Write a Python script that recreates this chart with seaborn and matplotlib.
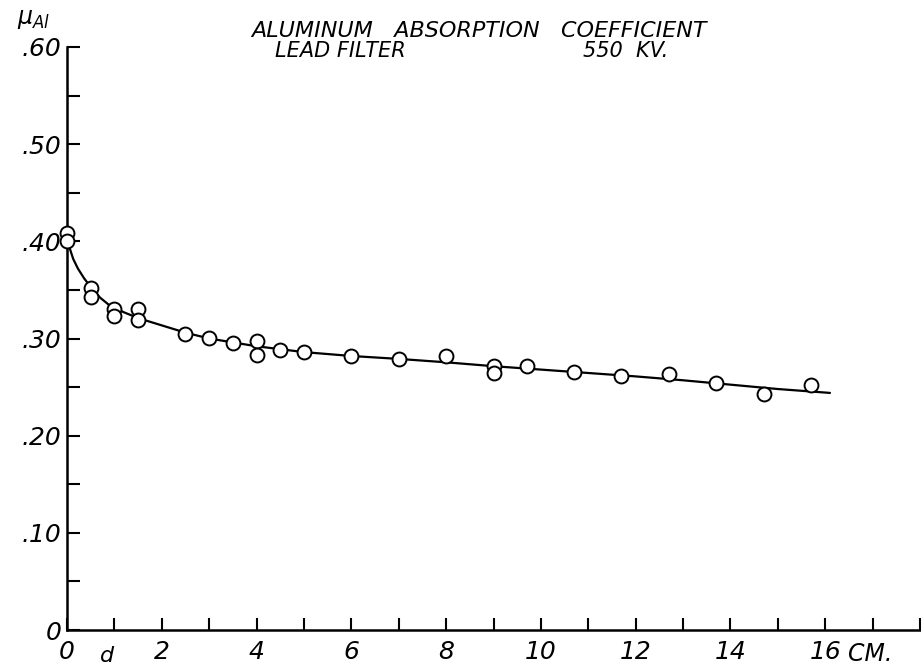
import matplotlib
matplotlib.use("Agg")
import matplotlib.pyplot as plt
import seaborn as sns
import pandas as pd

# Measured aluminum absorption coefficient vs. lead filter thickness (cm)
thickness_cm = [0.0, 0.0, 0.5, 0.5, 1.0, 1.0, 1.5, 1.5, 2.5, 3.0, 3.5, 4.0, 4.0,
                4.5, 5.0, 6.0, 7.0, 8.0, 9.0, 9.0, 9.7, 10.7, 11.7, 12.7, 13.7,
                14.7, 15.7]
mu_al = [0.409, 0.400, 0.352, 0.343, 0.330, 0.323, 0.330, 0.319, 0.305, 0.301,
         0.295, 0.297, 0.283, 0.288, 0.286, 0.282, 0.279, 0.282, 0.272, 0.264,
         0.272, 0.2655, 0.261, 0.263, 0.254, 0.243, 0.252]

# Hand-drawn smooth curve through the measurements
curve_x = [0.0, 0.03, 0.13, 0.23, 0.36, 0.5, 0.7, 0.9, 1.2, 1.5, 1.9, 2.3, 2.5,
           3.0, 3.5, 4.0, 4.5, 5.0, 6.0, 7.0, 8.0, 9.0, 10.0, 11.0, 12.0, 13.0,
           14.0, 15.0, 16.1]
curve_y = [0.400, 0.397, 0.382, 0.372, 0.362, 0.353, 0.342, 0.334, 0.327, 0.321,
           0.315, 0.309, 0.306, 0.300, 0.296, 0.292, 0.289, 0.286, 0.282, 0.279,
           0.2755, 0.2715, 0.268, 0.2645, 0.261, 0.257, 0.2525, 0.248, 0.244]

y_ticks = [0.0, 0.10, 0.20, 0.30, 0.40, 0.50, 0.60]
y_ticklabels = ["0", ".10", ".20", ".30", ".40", ".50", ".60"]
y_minor_ticks = [0.05, 0.15, 0.25, 0.35, 0.45, 0.55]
x_ticks = list(range(0, 19))
x_ticklabels = ["0", "", "2", "", "4", "", "6", "", "8", "", "10", "", "12", "",
                "14", "", "16", "", ""]

points = pd.DataFrame({"d": thickness_cm, "mu": mu_al})
curve = pd.DataFrame({"d": curve_x, "mu": curve_y})

sns.set_style("ticks")
plt.rcParams["font.family"] = ["DejaVu Sans"]
plt.rcParams["font.style"] = "oblique"
plt.rcParams["text.color"] = "black"
plt.rcParams["xtick.color"] = "black"
plt.rcParams["ytick.color"] = "black"

W, H = 921, 667
fig = plt.figure(figsize=(W / 100, H / 100), dpi=100)
ax = fig.add_axes([67 / W, 37 / H, (920 - 67) / W, (630 - 47) / H])

sns.lineplot(data=curve, x="d", y="mu", ax=ax, color="black", linewidth=1.6,
             sort=False, estimator=None, zorder=2)
sns.scatterplot(data=points, x="d", y="mu", ax=ax, marker="o", s=100,
                facecolor="white", edgecolor="black", linewidth=1.4,
                clip_on=False, zorder=3)

ax.set_xlim(0, 18)
ax.set_ylim(0, 0.60)
ax.set_xticks(x_ticks)
ax.set_xticklabels(x_ticklabels)
ax.set_yticks(y_ticks)
ax.set_yticklabels(y_ticklabels)
ax.set_yticks(y_minor_ticks, minor=True)

ax.set_xlabel("")
ax.set_ylabel("")
sns.despine(ax=ax)
for side in ("left", "bottom"):
    ax.spines[side].set_linewidth(1.8)
    ax.spines[side].set_color("black")

ax.tick_params(axis="both", which="both", direction="in", length=9, width=1.5,
               colors="black", labelsize=18)
ax.tick_params(axis="y", pad=4)
ax.tick_params(axis="x", pad=7)
for lab in ax.get_xticklabels() + ax.get_yticklabels():
    lab.set_fontstyle("oblique")
    lab.set_color("black")

ax.text(16.48, -0.012, "CM.", fontsize=17, style="oblique", color="black",
        ha="left", va="top", clip_on=False)
ax.text(0.85, -0.027, "d", fontsize=16, style="oblique", color="black",
        ha="center", va="center", clip_on=False)

fig.text(34 / W, 1 - 19 / H, r"$\mu_{\mathsf{Al}}$", fontsize=17, color="black",
         ha="center", va="center")
fig.text(479 / W, 1 - 21 / H, "ALUMINUM   ABSORPTION   COEFFICIENT", fontsize=16,
         style="oblique", color="black", ha="center", va="top")
fig.text(275 / W, 1 - 41 / H, "LEAD FILTER", fontsize=15, style="oblique",
         color="black", ha="left", va="top")
fig.text(583 / W, 1 - 41 / H, "550  KV.", fontsize=15, style="oblique",
         color="black", ha="left", va="top")

fig.savefig("out.png", dpi=100, facecolor="white")
